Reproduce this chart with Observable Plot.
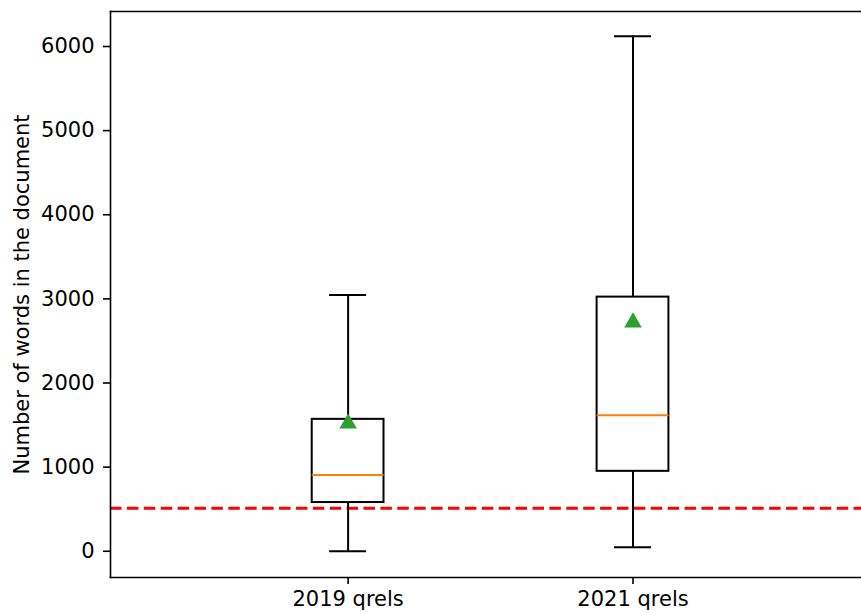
<!DOCTYPE html>
<html>
<head>
<meta charset="utf-8">
<script src="https://cdn.jsdelivr.net/npm/d3@7"></script>
<script src="https://cdn.jsdelivr.net/npm/@observablehq/plot@0.6"></script>
<style>
  html, body { margin: 0; padding: 0; background: white; }
  #chart svg { display: block; }
</style>
</head>
<body>
<div id="chart"></div>
<script>
// Categories and their box positions
const categories = ["2019 qrels", "2021 qrels"];
const positions = [1, 2];
// Box-plot statistics
const whiskerLow = [0, 48];
const q1 = [579, 950];
const median = [906, 1616];
const q3 = [1568, 3021];
const whiskerHigh = [3045, 6122];
const mean = [1547, 2748];
// Threshold line
const threshold = 512;
// Tick values
const yTicks = [0, 1000, 2000, 3000, 4000, 5000, 6000];
const yLabel = "Number of words in the document";

const rows = positions.map((p, i) => ({
  pos: p, cat: categories[i], lo: whiskerLow[i], q1: q1[i], med: median[i],
  q3: q3[i], hi: whiskerHigh[i], mean: mean[i]
}));
const boxHalf = 0.126, capHalf = 0.065;

const chart = Plot.plot({
  width: 861,
  height: 613,
  marginLeft: 110,
  marginRight: 0,
  marginTop: 11,
  marginBottom: 36,
  style: { fontFamily: "DejaVu Sans", fontSize: "21px", background: "white", color: "black" },
  x: { type: "linear", domain: [0.166, 2.802] },
  y: { domain: [-312, 6416] },
  marks: [
    // threshold
    Plot.ruleY([threshold], { stroke: "#ff0000", strokeWidth: 3, strokeDasharray: "11.5,5.4" }),
    // lower whiskers
    Plot.ruleX(rows, { x: "pos", y1: "lo", y2: "q1", stroke: "black", strokeWidth: 2 }),
    // upper whiskers
    Plot.ruleX(rows, { x: "pos", y1: "q3", y2: "hi", stroke: "black", strokeWidth: 2 }),
    // caps
    Plot.ruleY(rows, { y: "lo", x1: d => d.pos - capHalf, x2: d => d.pos + capHalf, stroke: "black", strokeWidth: 2 }),
    Plot.ruleY(rows, { y: "hi", x1: d => d.pos - capHalf, x2: d => d.pos + capHalf, stroke: "black", strokeWidth: 2 }),
    // boxes
    Plot.rect(rows, { x1: d => d.pos - boxHalf, x2: d => d.pos + boxHalf, y1: "q1", y2: "q3", fill: "none", stroke: "black", strokeWidth: 2 }),
    // medians
    Plot.ruleY(rows, { y: "med", x1: d => d.pos - boxHalf, x2: d => d.pos + boxHalf, stroke: "#ff7f0e", strokeWidth: 2 }),
    // means
    Plot.dot(rows, { x: "pos", y: "mean", symbol: "triangle", r: 6.5, fill: "#2ca02c", stroke: "none", dy: 2.4 }),
    // axes
    Plot.axisY({ ticks: yTicks, tickSize: 7, tickPadding: 9, strokeWidth: 1.6, fontSize: 21, label: null, tickFormat: d => String(d) }),
    Plot.axisX({ ticks: positions, tickSize: 7, tickPadding: 7, strokeWidth: 1.6, fontSize: 21, label: null, tickFormat: d => categories[positions.indexOf(d)] }),
    Plot.frame({ anchor: "left", stroke: "black", strokeWidth: 1.6 }),
    Plot.frame({ anchor: "top", stroke: "black", strokeWidth: 1.6 }),
    Plot.frame({ anchor: "bottom", stroke: "black", strokeWidth: 1.6 }),
    // y label
    Plot.text([yLabel], { frameAnchor: "left", textAnchor: "middle", dx: -88, dy: 0, rotate: -90, fontSize: 21, fill: "black" })
  ]
});
document.getElementById("chart").appendChild(chart);
</script>
</body>
</html>
